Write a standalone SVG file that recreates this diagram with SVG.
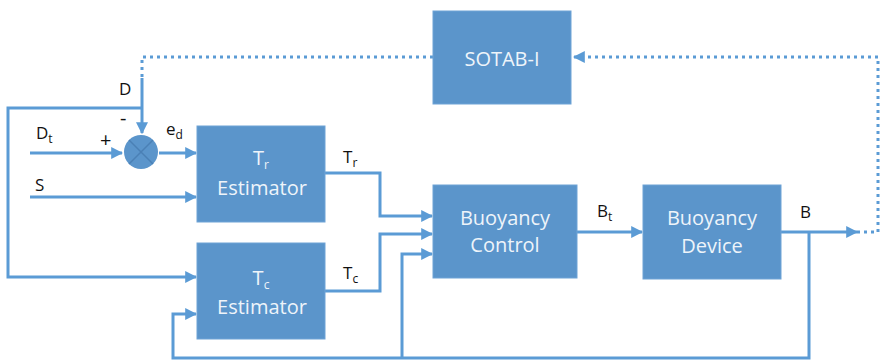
<svg xmlns="http://www.w3.org/2000/svg" width="884" height="362" viewBox="0 0 884 362">
  <style>
    .box { fill: #5B95CB; stroke: #6FA3D6; stroke-width: 1; }
    .wire { fill: none; stroke: #5B9BD5; stroke-width: 3; }
    .dots { fill: none; stroke: #5B9BD5; stroke-width: 3; stroke-dasharray: 3 4; }
    .in { font-family: "Open Sans", "Noto Sans", sans-serif; font-size: 20px; fill: #EEF4FA; text-anchor: middle; }
    .lbl { font-family: "Open Sans", "Noto Sans", sans-serif; font-size: 17px; fill: #111; }
    .sign { font-family: "Open Sans", "Noto Sans", sans-serif; font-size: 20px; fill: #111; }
    .sub { font-size: 12px; }
  </style>
  <defs>
    <marker id="arr" viewBox="0 0 10 10" refX="9" refY="5" markerWidth="4" markerHeight="4" orient="auto" markerUnits="strokeWidth">
      <path d="M0,0 L10,5 L0,10 Z" fill="#5B9BD5"/>
    </marker>
  </defs>
  <rect width="884" height="362" fill="#ffffff"/>

  <g id="connectors">
    <!-- SOTAB-I feedback (dotted) -->
    <path class="dots" d="M857,232 H878 V57 H574" marker-end="url(#arr)"/>
    <path class="dots" d="M433,57 H142 V77"/>
    <!-- D into summing junction -->
    <path class="wire" d="M142,78 V133" marker-end="url(#arr)"/>
    <!-- D branch to Tc estimator -->
    <path class="wire" d="M142,108 H8 V277 H196" marker-end="url(#arr)"/>
    <!-- Dt into junction -->
    <path class="wire" d="M30,153 H122" marker-end="url(#arr)"/>
    <!-- ed to Tr estimator -->
    <path class="wire" d="M159,153 H196" marker-end="url(#arr)"/>
    <!-- S to Tr estimator -->
    <path class="wire" d="M30,197 H196" marker-end="url(#arr)"/>
    <!-- Tr to control -->
    <path class="wire" d="M325,173 H380 V216 H432" marker-end="url(#arr)"/>
    <!-- Tc to control -->
    <path class="wire" d="M325,291 H380 V234 H432" marker-end="url(#arr)"/>
    <!-- Bt to device -->
    <path class="wire" d="M577,232 H642" marker-end="url(#arr)"/>
    <!-- B output -->
    <path class="wire" d="M781,232 H857" marker-end="url(#arr)"/>
    <!-- B feedback loop -->
    <path class="wire" d="M809,232 V358 H173 V314 H196" marker-end="url(#arr)"/>
    <path class="wire" d="M402,358 V254 H432" marker-end="url(#arr)"/>
  </g>

  <g id="sum">
    <circle cx="141" cy="152" r="17" fill="#5B95CB"/>
    <path d="M129,140 L153,164 M153,140 L129,164" stroke="#4A80B6" stroke-width="1.5"/>
  </g>

  <g id="sotab">
    <rect class="box" x="433" y="11" width="138" height="93"/>
    <text class="in" x="502" y="66">SOTAB-I</text>
  </g>

  <g id="tr-estimator">
    <rect class="box" x="197" y="126" width="128" height="96"/>
    <text class="in" x="261" y="165">T<tspan class="sub" dy="4">r</tspan></text>
    <text class="in" x="262" y="195">Estimator</text>
  </g>

  <g id="tc-estimator">
    <rect class="box" x="197" y="243" width="128" height="96"/>
    <text class="in" x="261" y="285">T<tspan class="sub" dy="4">c</tspan></text>
    <text class="in" x="262" y="314">Estimator</text>
  </g>

  <g id="buoyancy-control">
    <rect class="box" x="433" y="185" width="144" height="93"/>
    <text class="in" x="505" y="225">Buoyancy</text>
    <text class="in" x="505" y="252">Control</text>
  </g>

  <g id="buoyancy-device">
    <rect class="box" x="643" y="185" width="138" height="94"/>
    <text class="in" x="712" y="225">Buoyancy</text>
    <text class="in" x="712" y="253">Device</text>
  </g>

  <g id="labels">
    <text class="lbl" x="119" y="95">D</text>
    <text class="sign" x="120" y="125">-</text>
    <text class="sign" x="100" y="147">+</text>
    <text class="lbl" x="36" y="139">D<tspan class="sub" dy="4">t</tspan></text>
    <text class="lbl" x="166" y="135">e<tspan class="sub" dy="4">d</tspan></text>
    <text class="lbl" x="35" y="191">S</text>
    <text class="lbl" x="343" y="163">T<tspan class="sub" dy="4">r</tspan></text>
    <text class="lbl" x="343" y="279">T<tspan class="sub" dy="4">c</tspan></text>
    <text class="lbl" x="597" y="217">B<tspan class="sub" dy="4">t</tspan></text>
    <text class="lbl" x="800" y="218">B</text>
  </g>
</svg>
